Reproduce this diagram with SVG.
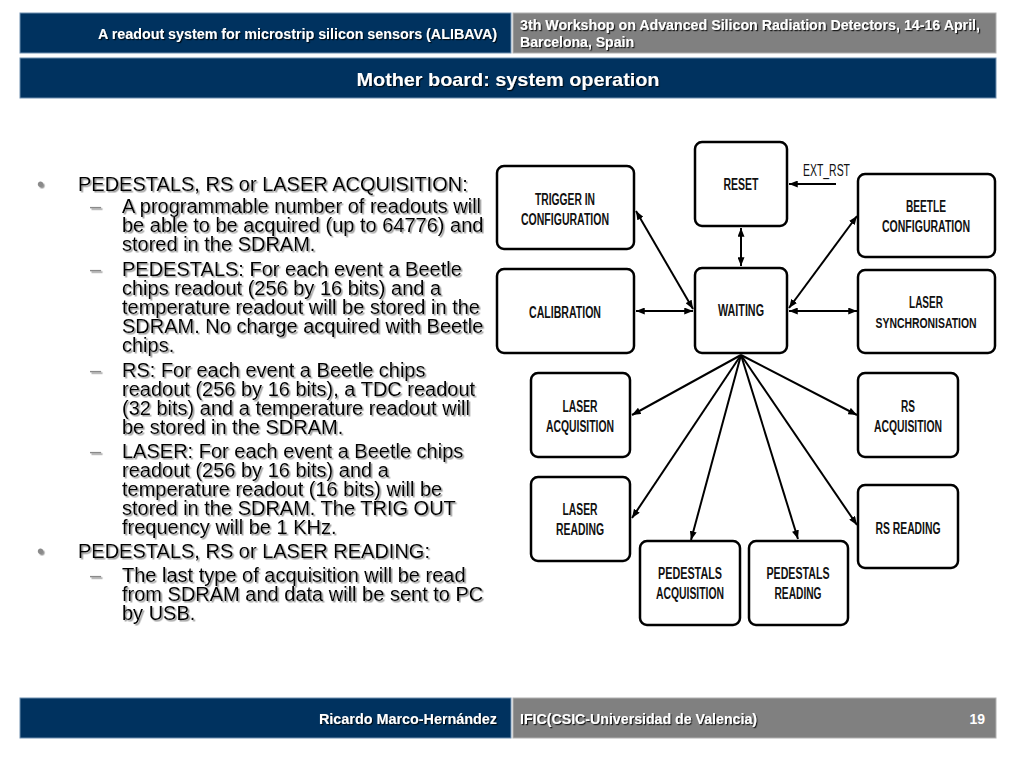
<svg xmlns="http://www.w3.org/2000/svg" width="1024" height="768" viewBox="0 0 1024 768">
<defs>
<style>
.bar-blue{fill:#00325f;stroke:#6f8fb0;stroke-width:1}
.bar-gray{fill:#808080;stroke:#b0b0b0;stroke-width:1}
.hdr{font-family:"Liberation Sans Narrow","Liberation Sans",Arial,sans-serif;font-weight:bold;fill:#fff;font-size:14px}
.title{font-family:"Liberation Sans Narrow","Liberation Sans",Arial,sans-serif;font-weight:bold;fill:#fff;font-size:19px}
.body{font-family:"Liberation Sans",Arial,sans-serif;font-size:20px;fill:#000}
.mark{font-family:"Liberation Sans",Arial,sans-serif;font-size:20px;fill:#8a8a8a}
.node rect{fill:#fff;stroke:#000;stroke-width:2.5}
.node text{font-family:"Liberation Sans Narrow","Liberation Sans",Arial,sans-serif;font-weight:bold;font-size:16px;fill:#111;text-anchor:middle}
.node text.sm{font-size:15px}
.conn line{stroke:#000;stroke-width:2}
.lbl{font-family:"Liberation Sans Narrow","Liberation Sans",Arial,sans-serif;font-size:16px;fill:#111}
</style>
<marker id="ah" viewBox="0 0 10 8" refX="10" refY="4" markerWidth="9" markerHeight="7" markerUnits="userSpaceOnUse" orient="auto-start-reverse">
<path d="M0,0 L10,4 L0,8 z" fill="#000"/>
</marker>
<filter id="shadow" x="-5%" y="-20%" width="110%" height="150%">
<feDropShadow dx="1.5" dy="1.5" stdDeviation="0.7" flood-color="#8c8c8c" flood-opacity="0.9"/>
</filter>
<filter id="shadowW" x="-5%" y="-20%" width="110%" height="150%">
<feDropShadow dx="1.2" dy="1.2" stdDeviation="0.5" flood-color="#000" flood-opacity="0.8"/>
</filter>
</defs>
<rect width="1024" height="768" fill="#fff"/>

<g id="header">
<rect class="bar-blue" x="20" y="13" width="491" height="40"/>
<rect class="bar-gray" x="513" y="13" width="483" height="40"/>
<text class="hdr" x="497" y="39" text-anchor="end" textLength="399" lengthAdjust="spacingAndGlyphs" filter="url(#shadowW)">A readout system for microstrip silicon sensors (ALIBAVA)</text>
<text class="hdr" x="520" y="30" textLength="460" lengthAdjust="spacingAndGlyphs" filter="url(#shadowW)">3th Workshop on Advanced Silicon Radiation Detectors, 14-16 April,</text>
<text class="hdr" x="520" y="47" textLength="114" lengthAdjust="spacingAndGlyphs" filter="url(#shadowW)">Barcelona, Spain</text>
<rect class="bar-blue" x="20" y="58" width="976" height="40"/>
<text class="title" x="508" y="86" text-anchor="middle" textLength="303" lengthAdjust="spacingAndGlyphs" filter="url(#shadowW)">Mother board: system operation</text>
</g>

<g id="bullets" filter="url(#shadow)">
<text class="mark" x="37" y="191">•</text>
<text class="body" x="78" y="191">PEDESTALS, RS or LASER ACQUISITION:</text>
<text class="mark" x="90" y="213">–</text>
<text class="body" x="122" y="213">A programmable number of readouts will</text>
<text class="body" x="122" y="232">be able to be acquired (up to 64776) and</text>
<text class="body" x="122" y="251">stored in the SDRAM.</text>
<text class="mark" x="90" y="276">–</text>
<text class="body" x="122" y="276">PEDESTALS: For each event a Beetle</text>
<text class="body" x="122" y="295">chips readout (256 by 16 bits) and a</text>
<text class="body" x="122" y="314">temperature readout will be stored in the</text>
<text class="body" x="122" y="333">SDRAM. No charge acquired with Beetle</text>
<text class="body" x="122" y="352">chips.</text>
<text class="mark" x="90" y="377">–</text>
<text class="body" x="122" y="377">RS: For each event a Beetle chips</text>
<text class="body" x="122" y="396">readout (256 by 16 bits), a TDC readout</text>
<text class="body" x="122" y="415">(32 bits) and a temperature readout will</text>
<text class="body" x="122" y="434">be stored in the SDRAM.</text>
<text class="mark" x="90" y="458">–</text>
<text class="body" x="122" y="458">LASER: For each event a Beetle chips</text>
<text class="body" x="122" y="477">readout (256 by 16 bits) and a</text>
<text class="body" x="122" y="496">temperature readout (16 bits) will be</text>
<text class="body" x="122" y="515">stored in the SDRAM. The TRIG OUT</text>
<text class="body" x="122" y="534">frequency will be 1 KHz.</text>
<text class="mark" x="37" y="558">•</text>
<text class="body" x="78" y="558">PEDESTALS, RS or LASER READING:</text>
<text class="mark" x="90" y="582">–</text>
<text class="body" x="122" y="582">The last type of acquisition will be read</text>
<text class="body" x="122" y="601">from SDRAM and data will be sent to PC</text>
<text class="body" x="122" y="620">by USB.</text>
</g>

<g id="connectors" class="conn">
<line x1="636" y1="211" x2="693" y2="309" marker-start="url(#ah)" marker-end="url(#ah)"/>
<line x1="636" y1="311" x2="693" y2="311" marker-start="url(#ah)" marker-end="url(#ah)"/>
<line x1="741" y1="228" x2="741" y2="266" marker-start="url(#ah)" marker-end="url(#ah)"/>
<line x1="789" y1="308" x2="857" y2="216" marker-start="url(#ah)" marker-end="url(#ah)"/>
<line x1="789" y1="311" x2="857" y2="311" marker-start="url(#ah)" marker-end="url(#ah)"/>
<line x1="836" y1="184" x2="789" y2="184" marker-end="url(#ah)"/>
<line x1="741" y1="355" x2="632" y2="415" marker-end="url(#ah)"/>
<line x1="741" y1="355" x2="632" y2="518" marker-end="url(#ah)"/>
<line x1="741" y1="355" x2="691" y2="540" marker-end="url(#ah)"/>
<line x1="741" y1="355" x2="798" y2="539" marker-end="url(#ah)"/>
<line x1="741" y1="355" x2="857" y2="525" marker-end="url(#ah)"/>
<line x1="741" y1="355" x2="857" y2="415" marker-end="url(#ah)"/>
<text class="lbl" x="803" y="176" textLength="47" lengthAdjust="spacingAndGlyphs">EXT_RST</text>
</g>

<g id="trigger-in-configuration" class="node">
<rect x="497" y="166" width="137" height="83" rx="7"/>
<text x="565" y="205" textLength="60" lengthAdjust="spacingAndGlyphs">TRIGGER IN</text>
<text x="565" y="225" textLength="88" lengthAdjust="spacingAndGlyphs">CONFIGURATION</text>
</g>
<g id="calibration" class="node">
<rect x="497" y="269" width="137" height="84" rx="7"/>
<text x="565" y="318" textLength="72" lengthAdjust="spacingAndGlyphs">CALIBRATION</text>
</g>
<g id="reset" class="node">
<rect x="695" y="142" width="92" height="84" rx="7"/>
<text x="741" y="190" textLength="35" lengthAdjust="spacingAndGlyphs">RESET</text>
</g>
<g id="waiting" class="node">
<rect x="695" y="268" width="92" height="85" rx="7"/>
<text x="741" y="316" textLength="46" lengthAdjust="spacingAndGlyphs">WAITING</text>
</g>
<g id="beetle-configuration" class="node">
<rect x="858" y="174" width="137" height="83" rx="7"/>
<text x="926" y="212" textLength="40" lengthAdjust="spacingAndGlyphs">BEETLE</text>
<text x="926" y="232" textLength="88" lengthAdjust="spacingAndGlyphs">CONFIGURATION</text>
</g>
<g id="laser-synchronisation" class="node">
<rect x="858" y="270" width="137" height="83" rx="7"/>
<text x="926" y="308" textLength="34" lengthAdjust="spacingAndGlyphs">LASER</text>
<text class="sm" x="926" y="328" textLength="101" lengthAdjust="spacingAndGlyphs">SYNCHRONISATION</text>
</g>
<g id="laser-acquisition" class="node">
<rect x="531" y="373" width="99" height="84" rx="7"/>
<text x="580" y="412" textLength="35" lengthAdjust="spacingAndGlyphs">LASER</text>
<text x="580" y="432" textLength="68" lengthAdjust="spacingAndGlyphs">ACQUISITION</text>
</g>
<g id="laser-reading" class="node">
<rect x="531" y="477" width="99" height="84" rx="7"/>
<text x="580" y="515" textLength="35" lengthAdjust="spacingAndGlyphs">LASER</text>
<text x="580" y="535" textLength="48" lengthAdjust="spacingAndGlyphs">READING</text>
</g>
<g id="pedestals-acquisition" class="node">
<rect x="640" y="541" width="100" height="84" rx="7"/>
<text x="690" y="579" textLength="64" lengthAdjust="spacingAndGlyphs">PEDESTALS</text>
<text x="690" y="599" textLength="68" lengthAdjust="spacingAndGlyphs">ACQUISITION</text>
</g>
<g id="pedestals-reading" class="node">
<rect x="749" y="541" width="99" height="84" rx="7"/>
<text x="798" y="579" textLength="63" lengthAdjust="spacingAndGlyphs">PEDESTALS</text>
<text x="798" y="599" textLength="47" lengthAdjust="spacingAndGlyphs">READING</text>
</g>
<g id="rs-acquisition" class="node">
<rect x="858" y="373" width="100" height="84" rx="7"/>
<text x="908" y="412" textLength="14" lengthAdjust="spacingAndGlyphs">RS</text>
<text x="908" y="432" textLength="68" lengthAdjust="spacingAndGlyphs">ACQUISITION</text>
</g>
<g id="rs-reading" class="node">
<rect x="858" y="485" width="100" height="83" rx="7"/>
<text x="908" y="534" textLength="65" lengthAdjust="spacingAndGlyphs">RS READING</text>
</g>

<g id="footer">
<rect class="bar-blue" x="20" y="698" width="491" height="40"/>
<rect class="bar-gray" x="513" y="698" width="483" height="40"/>
<text class="hdr" x="497" y="724" text-anchor="end" textLength="178" lengthAdjust="spacingAndGlyphs" filter="url(#shadowW)">Ricardo Marco-Hernández</text>
<text class="hdr" x="520" y="724" textLength="237" lengthAdjust="spacingAndGlyphs" filter="url(#shadowW)">IFIC(CSIC-Universidad de Valencia)</text>
<text class="hdr" x="985" y="724" text-anchor="end">19</text>
</g>
</svg>
